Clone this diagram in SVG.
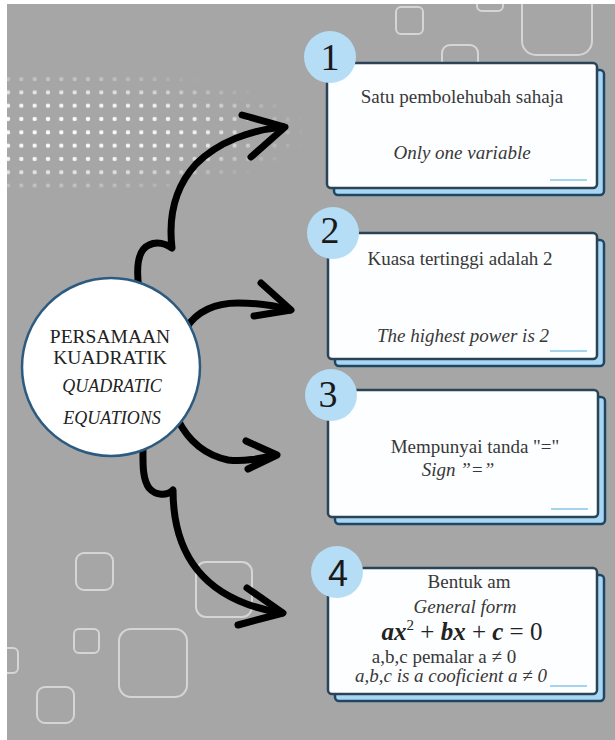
<svg xmlns="http://www.w3.org/2000/svg" width="615" height="740" viewBox="0 0 615 740">
<style>
.bg{fill:#a6a6a6}
.deco{fill:none;stroke:#dadada;stroke-width:2;opacity:.9}
.arrow{fill:none;stroke:#000;stroke-width:7;stroke-linecap:round;stroke-linejoin:round}
.shadow{fill:#a9d7f3;stroke:#1d4763;stroke-width:2.5}
.card{fill:#fdfeff;stroke:#2a4357;stroke-width:2.5}
.badge{fill:#b6ddf6}
.accent{stroke:#a6d3ee;stroke-width:2}
.num{font-size:38px;fill:#1a1a1a;text-anchor:middle}
.t{font-size:19px;fill:#383838;text-anchor:middle}
.i{font-style:italic}
.c{fill:#222;text-anchor:middle}
</style>
<defs>
<clipPath id="clip"><rect x="7" y="4" width="608" height="736"/></clipPath>
<pattern id="dotpat" patternUnits="userSpaceOnUse" x="1.33" y="72.33" width="13.33" height="13.33">
<circle cx="6.67" cy="6.67" r="2.2" fill="#fff"/>
</pattern>
<radialGradient id="fade">
<stop offset="0" stop-color="#fff" stop-opacity="1"/>
<stop offset="0.55" stop-color="#fff" stop-opacity="0.85"/>
<stop offset="1" stop-color="#fff" stop-opacity="0"/>
</radialGradient>
<mask id="dotmask"><ellipse cx="60" cy="132" rx="250" ry="64" fill="url(#fade)"/></mask>
</defs>
<rect width="615" height="740" fill="#fff"/>
<rect class="bg" x="7" y="4" width="608" height="736"/>
<g id="decor" clip-path="url(#clip)">
<rect x="7" y="70" width="295" height="125" fill="url(#dotpat)" mask="url(#dotmask)"/>
<rect class="deco" x="396" y="7" width="27" height="27" rx="5"/>
<rect class="deco" x="477" y="-15" width="26" height="26" rx="5"/>
<rect class="deco" x="522" y="-20" width="70" height="75" rx="14"/>
<rect class="deco" x="442" y="45" width="36" height="36" rx="8"/>
<rect class="deco" x="76" y="553" width="37" height="37" rx="8"/>
<rect class="deco" x="196" y="562" width="56" height="55" rx="10"/>
<rect class="deco" x="74" y="629" width="25" height="24" rx="5"/>
<rect class="deco" x="119" y="629" width="68" height="68" rx="12"/>
<rect class="deco" x="-8" y="648" width="26" height="25" rx="5"/>
<rect class="deco" x="37" y="687" width="37" height="36" rx="8"/>
</g>
<g id="connectors">
<path class="arrow" d="M139,290 C136,268 137,250 149,245 C157,241 166,244 172,248 C168,214 176,186 196,164 C218,142 250,130 283,127"/>
<path class="arrow" d="M242,115 L285,127 L251,157"/>
<path class="arrow" d="M186,328 C198,310 216,303 238,303 C258,303 276,306 290,310"/>
<path class="arrow" d="M261,283 L291,310 L254,316"/>
<path class="arrow" d="M178,420 C188,440 205,455 228,460 C245,462 262,458 276,455"/>
<path class="arrow" d="M246,441 L277,455 L248,469"/>
<path class="arrow" d="M143,447 C143,462 142,478 149,488 C156,496 167,496 173,490 C173,550 200,600 282,613"/>
<path class="arrow" d="M247,588 L283,613 L238,625"/>
</g>
<g id="center" font-family="Liberation Serif, Times New Roman, serif">
<circle cx="111" cy="367" r="89" fill="#fff" stroke="#2d5b80" stroke-width="2.5"/>
<text class="c" x="110" y="343" font-size="19.5">PERSAMAAN</text>
<text class="c" x="110" y="364" font-size="19.5">KUADRATIK</text>
<text class="c i" x="112" y="392" font-size="18">QUADRATIC</text>
<text class="c i" x="112" y="424" font-size="18">EQUATIONS</text>
</g>
<g id="card1" font-family="Liberation Serif, Times New Roman, serif">
<rect class="shadow" x="334" y="70" width="270" height="125" rx="4"/>
<rect class="card" x="327" y="63" width="270" height="125" rx="4"/>
<line class="accent" x1="550" y1="180" x2="587" y2="180"/>
<circle class="badge" cx="330" cy="57" r="26"/>
<text class="num" x="330" y="70">1</text>
<text class="t" x="462" y="103">Satu pembolehubah sahaja</text>
<text class="t i" x="462" y="159">Only one variable</text>
</g>
<g id="card2" font-family="Liberation Serif, Times New Roman, serif">
<rect class="shadow" x="335" y="240" width="269" height="126" rx="4"/>
<rect class="card" x="328" y="233" width="269" height="126" rx="4"/>
<line class="accent" x1="550" y1="351" x2="587" y2="351"/>
<circle class="badge" cx="333" cy="233" r="26"/>
<text class="num" x="330" y="243">2</text>
<text class="t" x="460" y="265">Kuasa tertinggi adalah 2</text>
<text class="t i" x="463" y="342" font-size="21">The highest power is 2</text>
</g>
<g id="card3" font-family="Liberation Serif, Times New Roman, serif">
<rect class="shadow" x="335" y="397" width="270" height="127" rx="4"/>
<rect class="card" x="328" y="390" width="270" height="127" rx="4"/>
<line class="accent" x1="551" y1="509" x2="588" y2="509"/>
<circle class="badge" cx="331" cy="395" r="26"/>
<text class="num" x="328" y="407">3</text>
<text class="t" x="475" y="453" font-size="20.5">Mempunyai tanda "="</text>
<text class="t i" x="458" y="476" font-size="20">Sign ”=”</text>
</g>
<g id="card4" font-family="Liberation Serif, Times New Roman, serif">
<rect class="shadow" x="335" y="575" width="269" height="126" rx="4"/>
<rect class="card" x="328" y="568" width="269" height="126" rx="4"/>
<line class="accent" x1="550" y1="686" x2="587" y2="686"/>
<circle class="badge" cx="337" cy="572" r="26"/>
<text class="num" x="338" y="586" font-family="Liberation Sans, Arial, sans-serif" style="font-size:36px">4</text>
<text class="t" x="469" y="588" font-size="20">Bentuk am</text>
<text class="t i" x="465" y="613" font-size="20">General form</text>
<text class="t" x="462" y="640" style="font-size:25px;fill:#222"><tspan font-weight="bold" font-style="italic">ax</tspan><tspan dy="-10" font-size="15">2</tspan><tspan dy="10"> + </tspan><tspan font-weight="bold" font-style="italic">bx</tspan><tspan> + </tspan><tspan font-weight="bold" font-style="italic">c</tspan><tspan> = 0</tspan></text>
<text class="t" x="444" y="663">a,b,c pemalar a ≠ 0</text>
<text class="t i" x="451" y="682" font-size="20">a,b,c is a cooficient a ≠ 0</text>
</g>
</svg>
